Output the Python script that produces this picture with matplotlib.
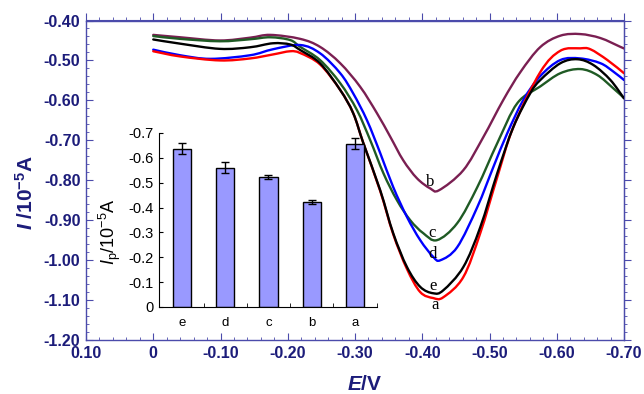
import matplotlib
matplotlib.use("Agg")
import matplotlib.pyplot as plt
from matplotlib.ticker import MultipleLocator, FixedLocator
from matplotlib.path import Path
from matplotlib.patches import PathPatch
import numpy as np

plt.rcParams['font.family'] = ['Liberation Sans', 'DejaVu Sans']
plt.rcParams['mathtext.fontset'] = 'custom'
plt.rcParams['mathtext.rm'] = 'Liberation Sans'
plt.rcParams['mathtext.it'] = 'Liberation Sans:italic'
plt.rcParams['mathtext.bf'] = 'Liberation Sans:bold'
plt.rcParams['mathtext.bfit'] = 'Liberation Sans:italic:bold'

# ---- main voltammograms (E in V, I in 1e-5 A) ----
E_b = [0.0, -0.04, -0.099, -0.144, -0.174, -0.2185, -0.248, -0.278, -0.3077, -0.3326,
       -0.3524, -0.3717, -0.3921, -0.4119, -0.425, -0.461, -0.4908, -0.5205, -0.546,
       -0.5756, -0.6054, -0.635, -0.665, -0.6946, -0.70]
I_b = [-0.436, -0.442, -0.45, -0.443, -0.436, -0.446, -0.466, -0.507, -0.566, -0.632,
       -0.691, -0.75, -0.795, -0.8205, -0.825, -0.775, -0.692, -0.599, -0.529,
       -0.4664, -0.438, -0.434, -0.444, -0.466, -0.47]

E_c = [0.0, -0.04, -0.099, -0.144, -0.174, -0.2036, -0.2185, -0.248, -0.278, -0.3028,
       -0.3226, -0.3424, -0.3624, -0.3821, -0.4015, -0.4219, -0.452, -0.4818, -0.5116,
       -0.5414, -0.5756, -0.6054, -0.635, -0.6604, -0.6842, -0.70]
I_c = [-0.439, -0.446, -0.452, -0.447, -0.442, -0.449, -0.466, -0.499, -0.557, -0.624,
       -0.6995, -0.783, -0.85, -0.90, -0.9325, -0.95, -0.9075, -0.8175, -0.707,
       -0.607, -0.565, -0.532, -0.5216, -0.5366, -0.57, -0.594]

E_e = [0.0, -0.04, -0.099, -0.144, -0.178, -0.2036, -0.2185, -0.248, -0.278, -0.2973,
       -0.3126, -0.3375, -0.3568, -0.3772, -0.397, -0.4164, -0.4313, -0.461, -0.4863,
       -0.5116, -0.5354, -0.5607, -0.5756, -0.6054, -0.6307, -0.6545, -0.6798, -0.70]
I_e = [-0.4475, -0.458, -0.471, -0.467, -0.457, -0.46, -0.474, -0.507, -0.574, -0.632,
       -0.708, -0.825, -0.9326, -1.017, -1.067, -1.083, -1.0755, -1.0175, -0.9174,
       -0.782, -0.667, -0.582, -0.549, -0.507, -0.497, -0.5115, -0.549, -0.595]

E_d = [0.0, -0.04, -0.085, -0.144, -0.178, -0.2185, -0.248, -0.278, -0.2973, -0.3177,
       -0.3375, -0.3568, -0.3772, -0.397, -0.4164, -0.427, -0.452, -0.4818, -0.5057,
       -0.5265, -0.5503, -0.5756, -0.6054, -0.635, -0.665, -0.6842, -0.70]
I_d = [-0.473, -0.487, -0.496, -0.487, -0.472, -0.4614, -0.482, -0.532, -0.5825, -0.6494,
       -0.732, -0.817, -0.8917, -0.95, -0.992, -1.0003, -0.9675, -0.8675, -0.767,
       -0.682, -0.599, -0.539, -0.499, -0.495, -0.507, -0.528, -0.549]

E_a = [0.0, -0.04, -0.099, -0.144, -0.178, -0.2036, -0.2185, -0.248, -0.278, -0.2973,
       -0.3126, -0.3375, -0.3568, -0.3772, -0.397, -0.4164, -0.4313, -0.461, -0.4863,
       -0.5116, -0.5354, -0.5756, -0.6054, -0.635, -0.65, -0.6753, -0.70]
I_a = [-0.477, -0.49, -0.50, -0.495, -0.485, -0.477, -0.4815, -0.51, -0.574, -0.632,
       -0.708, -0.827, -0.935, -1.022, -1.08, -1.095, -1.093, -1.0426, -0.9323,
       -0.792, -0.667, -0.529, -0.4757, -0.4697, -0.472, -0.499, -0.532]

curve_labels = ['b', 'c', 'd', 'e', 'a']
label_E = [-0.412, -0.415, -0.416, -0.416, -0.419]
label_I = [-0.805, -0.933, -0.985, -1.066, -1.113]

# ---- inset bar chart ----
bar_cats = ['e', 'd', 'c', 'b', 'a']
bar_vals = [-0.637, -0.561, -0.523, -0.421, -0.656]
bar_err = [0.021, 0.021, 0.010, 0.008, 0.022]

x_ticks = [0.10, 0.0, -0.10, -0.20, -0.30, -0.40, -0.50, -0.60, -0.70]
x_ticklabels = ['0.10', '0', '-0.10', '-0.20', '-0.30', '-0.40', '-0.50', '-0.60', '-0.70']
y_ticks = [-0.40, -0.50, -0.60, -0.70, -0.80, -0.90, -1.00, -1.10, -1.20]
y_ticklabels = ['-0.40', '-0.50', '-0.60', '-0.70', '-0.80', '-0.90', '-1.00', '-1.10', '-1.20']
inset_yticks = [0, -0.1, -0.2, -0.3, -0.4, -0.5, -0.6, -0.7]
inset_yticklabels = ['0', '-0.1', '-0.2', '-0.3', '-0.4', '-0.5', '-0.6', '-0.7']

spine_c = '#4b4bab'
label_c = '#1c1c7a'


def smooth_path(xs, ys):
    """Catmull-Rom curve through the given points, as cubic Bezier path."""
    P = np.column_stack([xs, ys]).astype(float)
    n = len(P)
    verts = [P[0]]
    codes = [Path.MOVETO]
    for i in range(n - 1):
        p0 = P[i - 1] if i > 0 else P[i]
        p1 = P[i]
        p2 = P[i + 1]
        p3 = P[i + 2] if i + 2 < n else P[i + 1]
        c1 = p1 + (p2 - p0) / 6.0
        c2 = p2 - (p3 - p1) / 6.0
        verts += [c1, c2, p2]
        codes += [Path.CURVE4] * 3
    return Path(verts, codes)


fig = plt.figure(figsize=(6.44, 3.94), dpi=100)
ax = fig.add_axes([86/644, 54/394, 538/644, 319.5/394])

series = [(E_b, I_b, '#7a1f52'), (E_c, I_c, '#1f5a24'), (E_d, I_d, '#0000ff'),
          (E_a, I_a, '#ff0000'), (E_e, I_e, '#000000')]
for E, I, col in series:
    ax.add_patch(PathPatch(smooth_path(E, I), fill=False, edgecolor=col, lw=1.7,
                           joinstyle='round', capstyle='round', zorder=3))

for lab, xe, yi in zip(curve_labels, label_E, label_I):
    ax.text(xe, yi, lab, family='Liberation Serif', fontsize=12, ha='center',
            va='center', zorder=4)

ax.set_xlim(0.10, -0.70)
ax.set_ylim(-1.20, -0.40)
ax.set_xticks(x_ticks)
ax.set_xticklabels(x_ticklabels)
ax.set_yticks(y_ticks)
ax.set_yticklabels(y_ticklabels)
ax.xaxis.set_minor_locator(MultipleLocator(0.02))
ax.yaxis.set_minor_locator(MultipleLocator(0.02))
for s in ax.spines.values():
    s.set_color(spine_c)
    s.set_linewidth(1.0)
ax.tick_params(which='both', direction='in', colors=spine_c, labelcolor=label_c,
               labelsize=11.5, pad=4)
ax.tick_params(which='major', length=5)
ax.tick_params(which='minor', length=2.5)
for t in ax.get_xticklabels() + ax.get_yticklabels():
    t.set_fontweight('bold')

sx = ax.secondary_xaxis('top')
sx.set_xticks(x_ticks)
sx.xaxis.set_minor_locator(MultipleLocator(0.02))
sx.tick_params(which='both', direction='out', colors=spine_c, labeltop=False)
sx.tick_params(which='major', length=5)
sx.tick_params(which='minor', length=2.5)
sx.spines['top'].set_color(spine_c)
sy = ax.secondary_yaxis('right')
sy.set_yticks(y_ticks)
sy.yaxis.set_minor_locator(MultipleLocator(0.02))
sy.tick_params(which='both', direction='out', colors=spine_c, labelright=False)
sy.tick_params(which='major', length=5)
sy.tick_params(which='minor', length=2.5)
sy.spines['right'].set_color(spine_c)

ax.set_xlabel(r'$\mathbfit{E}$/V', fontsize=15, fontweight='bold', color=label_c)
ax.set_ylabel(r'$\mathbfit{I}$ /10$^{\mathbf{-5}}$A', fontsize=15, fontweight='bold',
              color=label_c)
ax.xaxis.set_label_coords(0.518, -0.11)
ax.yaxis.set_label_coords(-0.092, 0.46)

# inset
ins = fig.add_axes([159/644, 87/394, 218/644, 174/394])
ins.patch.set_alpha(0)
xpos = np.arange(len(bar_cats))
ins.bar(xpos, bar_vals, width=0.42, color='#9999ff', edgecolor='black', linewidth=1.0,
        zorder=2)
ins.errorbar(xpos, bar_vals, yerr=bar_err, fmt='none', ecolor='black', elinewidth=1.0,
             capsize=3, capthick=1.0, zorder=3)
ins.set_ylim(0, -0.7)
ins.set_xlim(-0.53, 4.51)
ins.set_yticks(inset_yticks)
ins.set_yticklabels(inset_yticklabels)
ins.set_xticks(xpos)
ins.set_xticklabels(bar_cats)
ins.xaxis.set_minor_locator(FixedLocator([0.5, 1.5, 2.5, 3.5, 4.5]))
ins.tick_params(axis='x', which='major', length=0, labelsize=9.5, pad=7)
ins.tick_params(axis='x', which='minor', direction='in', length=3)
ins.tick_params(axis='y', direction='in', length=3, labelsize=10.5, pad=4)
ins.spines['top'].set_visible(False)
ins.spines['right'].set_visible(False)
ins.set_ylabel(r'$\mathit{I}_{\mathrm{p}}$/10$^{-5}$A', fontsize=13)
ins.yaxis.set_label_coords(-0.165, 0.43)

fig.savefig('out.png', dpi=100)
